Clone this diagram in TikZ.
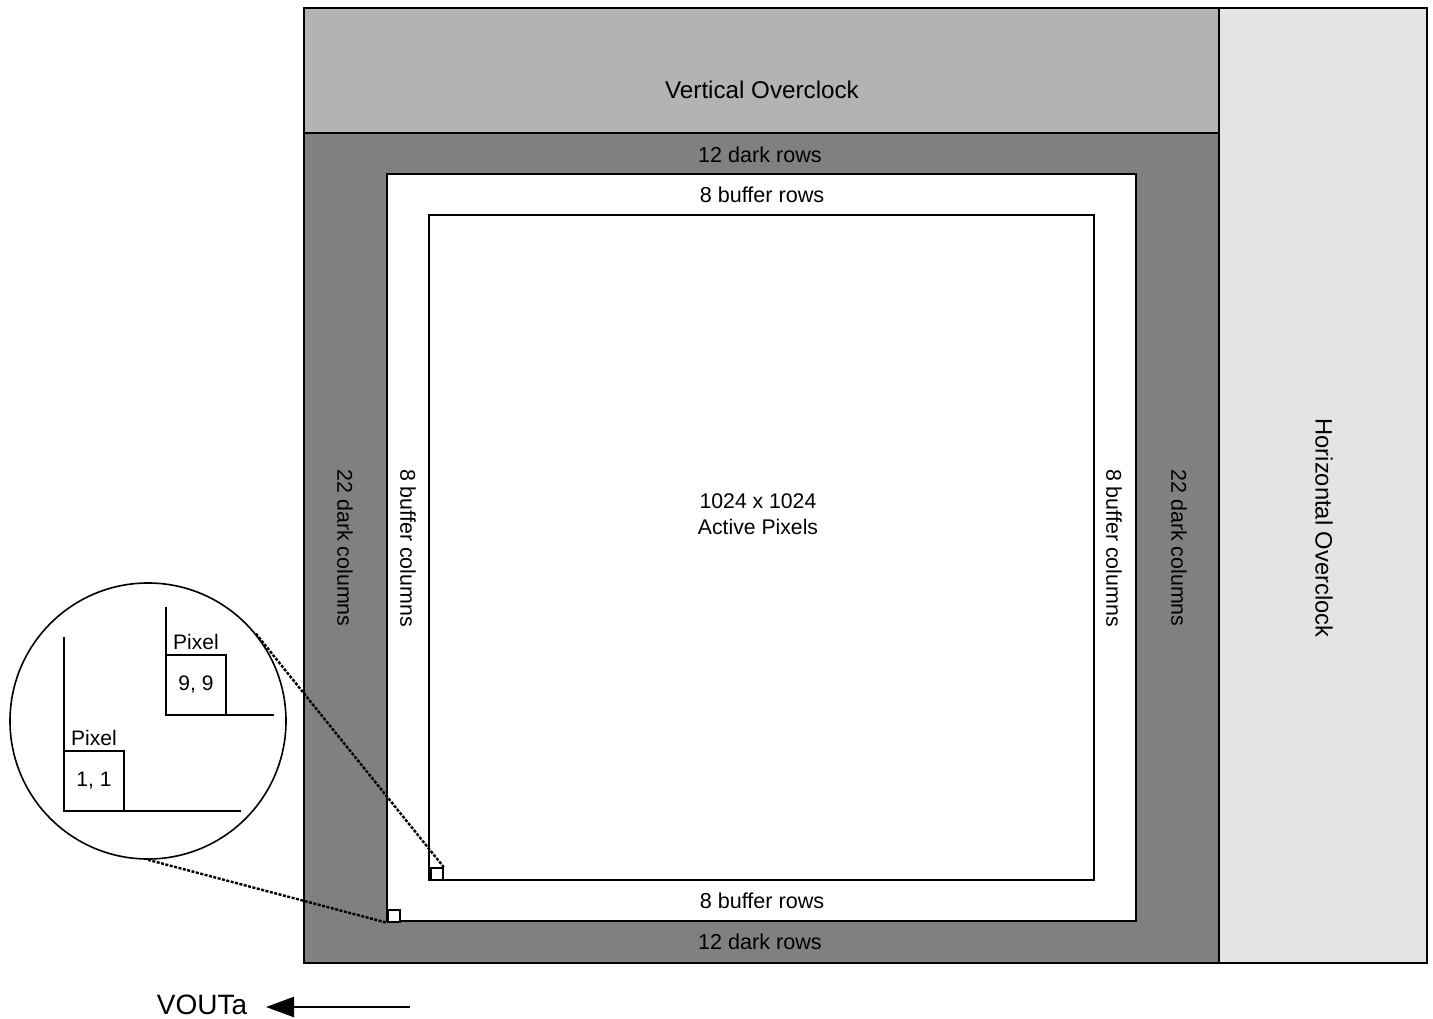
\documentclass[tikz,border=0pt]{standalone}
\usepackage{fontspec}
\setmainfont{Liberation Sans}
\usetikzlibrary{arrows.meta}
\definecolor{voc}{HTML}{B3B3B3}
\definecolor{dark}{HTML}{808080}
\definecolor{hoc}{HTML}{E4E4E4}
\tikzset{
  region/.style={draw=black, line width=1.6pt},
  lbl/.style={font=\fontsize{21.2}{25.5}\selectfont, inner sep=0pt},
  rowlbl/.style={font=\fontsize{21.6}{26}\selectfont, inner sep=0pt},
  sidelbl/.style={font=\fontsize{21.4}{25}\selectfont, inner sep=0pt, rotate=-90},
  smalllbl/.style={font=\fontsize{21}{24}\selectfont, inner sep=0pt},
  pixbox/.style={draw=black, line width=1.6pt, minimum size=12pt, inner sep=0pt, fill=white},
  leader/.style={draw=black, line width=2.4pt, dash pattern=on 3pt off 1.5pt},
  thin/.style={draw=black, line width=1.6pt}
}
\begin{document}
\begin{tikzpicture}[x=1pt,y=-1pt]
\useasboundingbox (0,0) rectangle (1433,1019);
% regions
\fill[voc] (304,8) rectangle (1219,133);
\fill[dark] (304,133) rectangle (1219,963);
\fill[hoc] (1219,8) rectangle (1427,963);
\draw[region] (304,8) rectangle (1219,133);
\draw[region] (304,133) rectangle (1219,963);
\draw[region] (1219,8) rectangle (1427,963);
\draw[region, fill=white] (387,174) rectangle (1136,921);
\draw[region, fill=white] (429,215) rectangle (1094,880);
% labels
\node[font=\fontsize{24.2}{28}\selectfont, inner sep=0pt] (vo) at (762,90) {Vertical Overclock};
\node[font=\fontsize{23.7}{28}\selectfont, inner sep=0pt, rotate=-90] (ho) at (1324,528) {Horizontal Overclock};
\node[rowlbl] (dr1) at (760,155) {12 dark rows};
\node[rowlbl] (br1) at (762,195) {8 buffer rows};
\node[rowlbl] (br2) at (762,901) {8 buffer rows};
\node[rowlbl] (dr2) at (760,942) {12 dark rows};
\node[sidelbl] (dc1) at (345,548) {22 dark columns};
\node[sidelbl] (bc1) at (408,548) {8 buffer columns};
\node[sidelbl] (bc2) at (1114,548) {8 buffer columns};
\node[sidelbl] (dc2) at (1179,548) {22 dark columns};
\node[lbl, align=center] (act) at (758,514) {1024 x 1024\\[1pt]Active Pixels};
% small pixel squares
\node[pixbox] (sq1) at (394,916) {};
\node[pixbox] (sq2) at (437,874) {};
% zoom circle
\node[draw=black, line width=1.6pt, circle, minimum size=276pt, inner sep=0pt, fill=white] (zoom) at (148,721) {};
\draw[leader] (zoom.39) -- (sq2.north east);
\draw[leader] (zoom.-90) -- (sq1.south west);
% inside circle
\draw[thin] (64,637) -- (64,811) -- (241,811);
\node[draw=black, line width=1.6pt, minimum size=60pt, inner sep=0pt] (p1) at (94,781) {};
\node[smalllbl] (t1) at (p1.center) {1, 1};
\node[smalllbl] (pl1) at (94,738) {Pixel};
\draw[thin] (166,607) -- (166,715) -- (274,715);
\node[draw=black, line width=1.6pt, minimum size=60pt, inner sep=0pt] (p9) at (196,685) {};
\node[smalllbl] (t9) at (p9.center) {9, 9};
\node[smalllbl] (pl9) at (196,642) {Pixel};
% VOUTa
\node[font=\fontsize{28}{32}\selectfont, inner sep=0pt] (vout) at (202,1005) {VOUTa};
\coordinate (arrstart) at (410,1007);
\coordinate (arrend) at (266,1007);
\begin{scope}[y=1pt]
\draw[line width=2.5pt, -{Triangle[length=28pt,width=20pt]}] (arrstart) -- (arrend);
\end{scope}
\end{tikzpicture}
\end{document}
